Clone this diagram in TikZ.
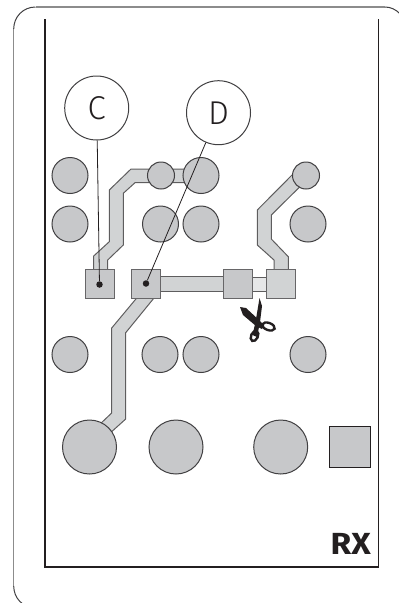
\documentclass[tikz,border=0pt]{standalone}
\usepackage{fontspec}
\setmainfont{Fira Sans Light}
\newfontfamily\rxfont{Fira Sans Bold}
\definecolor{padfill}{HTML}{C7C8CA}
\definecolor{tracefill}{HTML}{D1D3D4}
\definecolor{lightfill}{HTML}{E6E7E8}
\definecolor{ink}{HTML}{414042}
\definecolor{black2}{HTML}{231F20}
\tikzset{
 padc/.style={circle,draw=ink,fill=padfill,line width=1pt,inner sep=0pt,minimum size=36pt},
 padsmall/.style={padc,minimum size=27pt},
 padbig/.style={padc,minimum size=54pt},
 callout/.style={circle,draw=ink,fill=white,line width=1pt,inner sep=0pt,minimum size=64pt,font=\fontsize{33}{33}\selectfont,text=black2},
 pads/.style={rectangle,draw=ink!80,fill=padfill,line width=1pt,inner sep=0pt,minimum size=28.5pt},
 tracep/.style={draw=ink!85,fill=tracefill,line width=1pt,line join=miter},
 dotn/.style={circle,fill=black2,inner sep=0pt,minimum size=6.5pt},
 leader/.style={draw=black2,line width=.8pt},
}
\begin{document}
\begin{tikzpicture}[x=1pt,y=-1pt]
\useasboundingbox (0,0) rectangle (399,603);
\clip (0,0) rectangle (399,603);
% outer casing
\draw[color=gray!90,line width=1.2pt] (35.5,7) -- (385,7);
\draw[color=gray!90,line width=1.2pt] (13.7,29) -- (13.7,586);
\draw[color=ink,line width=1pt] (13.7,29) .. controls (13.7,17) and (23,7) .. (35.5,7);
\draw[color=ink,line width=1pt] (385,7) .. controls (396,7) and (406,17) .. (406,28);
\draw[color=ink,line width=1pt] (13.7,586) .. controls (13.7,598) and (23,608) .. (35.5,608);
% inner outline
\draw[color=black2,line width=1.5pt,line join=miter] (45,19) -- (45,567) -- (378.5,567) -- (378.5,19);
% traces
\path[tracep] (93.7,270) -- (93.7,256) -- (109.3,241.7) -- (109.3,190) -- (131,169) -- (190,169) -- (190,182.7) -- (135,182.7) -- (123.3,193.3) -- (123.3,245) -- (107.7,260) -- (107.7,270) -- cycle;
\path[tracep] (274,270) -- (274,260) -- (257.3,245) -- (257.3,210) -- (292,175) -- (299.3,187.3) -- (271.3,215) -- (271.3,239) -- (288.3,256.7) -- (288.3,270) -- cycle;
\path[tracep] (136.7,298) -- (111.7,328) -- (111.7,413) -- (98,426) -- (108,435) -- (125.7,419) -- (125.7,332.7) -- (154,298) -- cycle;
\path[tracep] (160,276.7) rectangle (224,291.7);
\path[tracep,fill=lightfill] (252,277) rectangle (267,291);
% round pads
\node[padc] (p1) at (70,175.5) {};
\node[padc] (p2) at (70,224) {};
\node[padc] (p3) at (160.5,224) {};
\node[padc] (p4) at (201,224) {};
\node[padc] (p5) at (201,175.5) {};
\node[padsmall] (p6) at (161,175.5) {};
\node[padsmall] (p7) at (306,175.5) {};
\node[padc] (p8) at (308,224) {};
\node[padc] (p9) at (70,354.5) {};
\node[padc] (p10) at (160,354.5) {};
\node[padc] (p11) at (201,354.5) {};
\node[padc] (p12) at (308,354.5) {};
\node[padbig] (b1) at (89.5,447) {};
\node[padbig] (b2) at (176,447) {};
\node[padbig] (b3) at (280.7,447) {};
\node[pads,minimum size=41pt,draw=black2] (sq) at (350.3,447) {};
% square pads
\node[pads] (sc) at (100,284) {};
\node[pads] (sd) at (146,284) {};
\node[pads] (se) at (238,284) {};
\node[pads,fill=tracefill] (sf) at (281,284) {};
% callouts
\node[callout] (C) at (96.7,108) {C};
\node[callout] (D) at (218.5,112.7) {D};
\node[dotn] (dc) at (99.5,284.5) {};
\node[dotn] (dd) at (146,283.5) {};
\draw[leader] (C) -- (dc);
\draw[leader] (D) -- (dd);
% scissors
\fill[black2] (240,307) -- (246,308) -- (259,320) -- (264,325) -- (262,329) -- (256,326) -- (243,315) -- cycle;
\fill[black2] (259.5,298) -- (262,306) -- (260,322) -- (257,337) -- (252.5,335) -- (255.5,322) -- cycle;
\draw[black2,line width=2.4pt] (268.5,326.5) ellipse[x radius=6.5pt,y radius=3.6pt,rotate=-20];
\draw[black2,line width=2.4pt] (254.5,336) ellipse[x radius=3.4pt,y radius=5.4pt,rotate=-25];
% label
\node[anchor=base east,inner sep=0pt,font=\rxfont\fontsize{30.5}{30.5}\selectfont,text=black2] (rx) at (371,554) {\scalebox{1.1}[1]{RX}};
\end{tikzpicture}
\end{document}
